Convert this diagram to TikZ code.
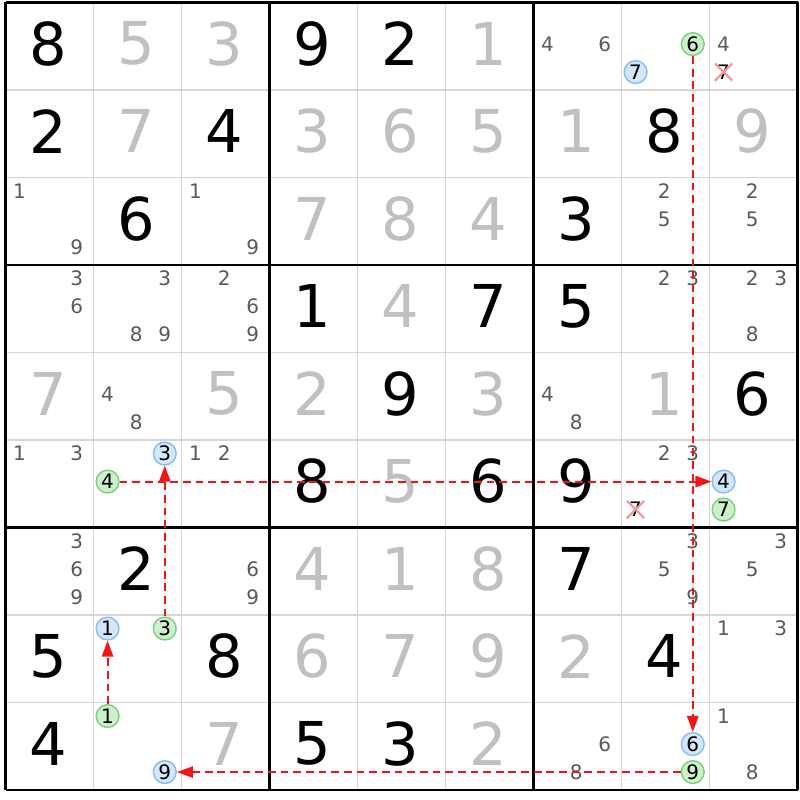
\documentclass[tikz,border=0pt]{standalone}
\usepackage{fontspec}
\setmainfont{DejaVu Sans}
\usetikzlibrary{arrows.meta,shapes.misc}

\definecolor{gridgray}{RGB}{214,214,214}
\definecolor{solvedgray}{RGB}{192,192,192}
\definecolor{candgray}{RGB}{90,90,90}
\definecolor{greenfill}{RGB}{204,240,204}
\definecolor{greenline}{RGB}{120,210,120}
\definecolor{bluefill}{RGB}{212,230,250}
\definecolor{blueline}{RGB}{135,188,242}
\definecolor{strikepink}{RGB}{244,150,150}
\definecolor{linkred}{RGB}{245,20,20}

\begin{document}
\begin{tikzpicture}[
        x=2.2cm, y=-2.1875cm,
        font=\fontsize{14.2}{15}\selectfont
    ]
    \tikzset{
        thingrid/.style = {draw=gridgray, line width=1.3pt},
        boxgrid/.style = {draw=black, line width=2.1pt},
        bigdigit/.style = {inner sep=0pt, font=\fontsize{42}{42}\selectfont},
        given/.style = {bigdigit, text=black},
        solved/.style = {bigdigit, text=solvedgray},
        cand/.style = {inner sep=0pt, text=candgray},
        greenmark/.style = {circle, draw=greenline, fill=greenfill, line width=1pt, inner sep=0pt, minimum size=0.57cm, text=black},
        bluemark/.style = {circle, draw=blueline, fill=bluefill, line width=1pt, inner sep=0pt, minimum size=0.57cm, text=black},
        struck/.style = {cross out, draw=strikepink, line width=1.5pt, inner sep=0pt, minimum size=0.38cm, text=black},
        link/.style = {color=linkred, line width=1.45pt, dash pattern=on 5.5pt off 3.5pt, -{Triangle[length=4mm,width=2.8mm]}},
    }
    \useasboundingbox (-0.0625,-0.0286) rectangle (9.0284,9.1143);
    \fill[white] (-0.0625,-0.0286) rectangle (9.0284,9.1143);

    % grid
    \foreach \i in {1,2,4,5,7,8} {
        \draw[thingrid] (\i,0) -- (\i,9);
        \draw[thingrid] (0,\i) -- (9,\i);
    }
    \foreach \i in {0,3,6,9} {
        \draw[boxgrid] (\i,0) -- (\i,9);
        \draw[boxgrid] (0,\i) -- (9,\i);
    }

    % placed digits
    \foreach \r/\c/\d in {0/0/8, 0/3/9, 0/4/2, 1/0/2, 1/2/4, 1/7/8, 2/1/6, 2/6/3,
            3/3/1, 3/5/7, 3/6/5, 4/4/9, 4/8/6, 5/3/8, 5/5/6, 5/6/9, 6/1/2, 6/6/7,
            7/0/5, 7/2/8, 7/7/4, 8/0/4, 8/3/5, 8/4/3}
        \node[given] (cell-\r-\c) at (\c+0.485,\r+0.47) {\d};
    \foreach \r/\c/\d in {0/1/5, 0/2/3, 0/5/1, 1/1/7, 1/3/3, 1/4/6, 1/5/5, 1/6/1, 1/8/9,
            2/3/7, 2/4/8, 2/5/4, 3/4/4, 4/0/7, 4/2/5, 4/3/2, 4/5/3, 4/7/1, 5/4/5,
            6/3/4, 6/4/1, 6/5/8, 7/3/6, 7/4/7, 7/5/9, 7/6/2, 8/2/7, 8/5/2}
        \node[solved] (cell-\r-\c) at (\c+0.485,\r+0.47) {\d};

    % candidates
    \foreach \r/\c/\d in {0/6/4, 0/6/6, 0/8/4, 2/0/1, 2/0/9, 2/2/1, 2/2/9, 2/7/2, 2/7/5,
            2/8/2, 2/8/5, 3/0/3, 3/0/6, 3/1/3, 3/1/8, 3/1/9, 3/2/2, 3/2/6, 3/2/9,
            3/7/2, 3/7/3, 3/8/2, 3/8/3, 3/8/8, 4/1/4, 4/1/8, 4/6/4, 4/6/8,
            5/0/1, 5/0/3, 5/2/1, 5/2/2, 5/7/2, 5/7/3, 6/0/3, 6/0/6, 6/0/9,
            6/2/6, 6/2/9, 6/7/3, 6/7/5, 6/7/9, 6/8/3, 6/8/5, 7/8/1, 7/8/3,
            8/6/6, 8/6/8, 8/8/1, 8/8/8} {
        \pgfmathsetmacro\sx{\c+0.16+0.325*mod(\d-1,3)}
        \pgfmathsetmacro\sy{\r+0.155+0.32*int((\d-1)/3)}
        \node[cand] (cand-\r-\c-\d) at (\sx,\sy) {\d};
    }

    % marked candidates
    \foreach \s/\r/\c/\d in {greenmark/0/7/6, bluemark/0/7/7, greenmark/5/1/4, bluemark/5/1/3,
            greenmark/5/8/7, bluemark/5/8/4, greenmark/7/1/3, bluemark/7/1/1,
            greenmark/8/1/1, bluemark/8/1/9, greenmark/8/7/9, bluemark/8/7/6,
            struck/0/8/7, struck/5/7/7} {
        \pgfmathsetmacro\sx{\c+0.16+0.325*mod(\d-1,3)}
        \pgfmathsetmacro\sy{\r+0.155+0.32*int((\d-1)/3)}
        \node[\s] (\s-\r-\c-\d) at (\sx,\sy) {\d};
    }

    % chain
    \draw[link] (greenmark-0-7-6) -- (bluemark-8-7-6);
    \draw[link] (greenmark-8-7-9) -- (bluemark-8-1-9);
    \draw[link] (greenmark-8-1-1) -- (bluemark-7-1-1);
    \draw[link] (greenmark-7-1-3) -- (bluemark-5-1-3);
    \draw[link] (greenmark-5-1-4) -- (bluemark-5-8-4);
\end{tikzpicture}
\end{document}
